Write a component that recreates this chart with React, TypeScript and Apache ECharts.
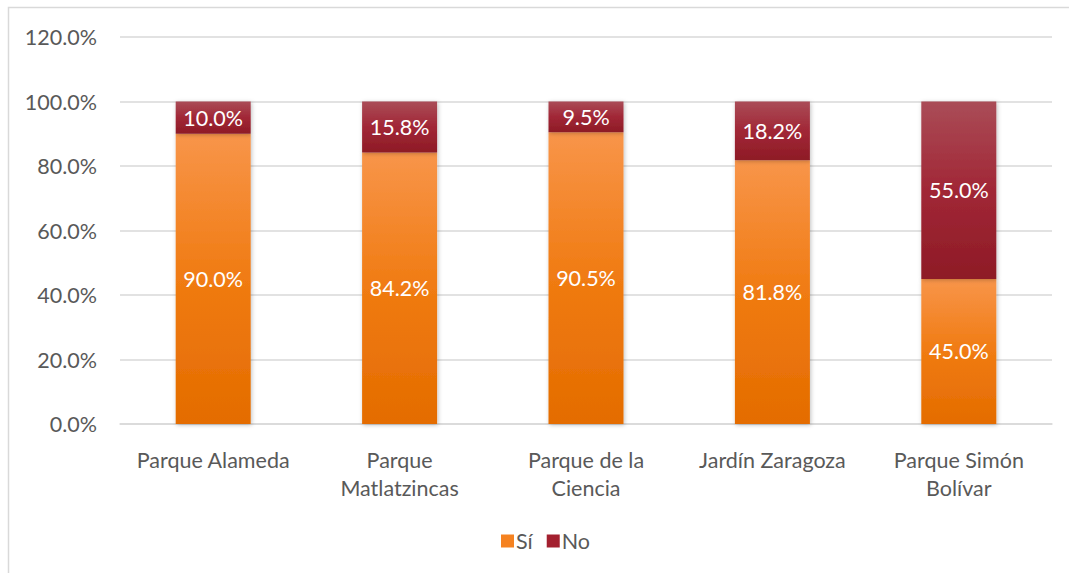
import React, { useEffect, useRef } from "react";
import * as echarts from "echarts";

const categories = [
  "Parque Alameda",
  "Parque Matlatzincas",
  "Parque de la Ciencia",
  "Jardín Zaragoza",
  "Parque Simón Bolívar",
];
const categoryLabels = [
  "Parque Alameda",
  "Parque\nMatlatzincas",
  "Parque de la\nCiencia",
  "Jardín Zaragoza",
  "Parque Simón\nBolívar",
];
const siValues = [90.0, 84.2, 90.5, 81.8, 45.0];
const noValues = [10.0, 15.8, 9.5, 18.2, 55.0];
const yTicks = { min: 0, max: 120, interval: 20 };

const FONT = "Lato, 'Noto Sans', sans-serif";
const FS = 21.5;

export default function App() {
  const ref = useRef<HTMLDivElement>(null);
  useEffect(() => {
    if (!ref.current) return;
    const chart = echarts.init(ref.current, undefined, { renderer: "svg" });
    const orange = new echarts.graphic.LinearGradient(0, 0, 0, 1, [
      { offset: 0, color: "#F8954A" },
      { offset: 0.5, color: "#F07B12" },
      { offset: 1, color: "#E46C00" },
    ]);
    const red = new echarts.graphic.LinearGradient(0, 0, 0, 1, [
      { offset: 0, color: "#AA4C57" },
      { offset: 0.5, color: "#A12736" },
      { offset: 1, color: "#8E1B26" },
    ]);
    const shadow = {
      shadowBlur: 4,
      shadowColor: "rgba(0,0,0,0.25)",
      shadowOffsetX: 1,
      shadowOffsetY: 1,
    };
    const labelStyle = {
      show: true,
      position: "inside" as const,
      color: "#FFFFFF",
      fontSize: FS,
      fontFamily: FONT,
      formatter: (p: any) => Number(p.value).toFixed(1) + "%",
    };
    chart.setOption({
      animation: false,
      backgroundColor: "#FFFFFF",
      textStyle: { fontFamily: FONT },
      graphic: [
        {
          type: "rect",
          shape: { x: 8.5, y: 7.5, width: 1200, height: 700 },
          style: { fill: "none", stroke: "#D9D9D9", lineWidth: 1.5 },
          silent: true,
          z: -10,
        },
      ],
      grid: { left: 120, right: 17, top: 37, bottom: 149 },
      legend: {
        data: [
          { name: "Sí", itemStyle: { color: "#F58220" } },
          { name: "No", itemStyle: { color: "#A3202F" } },
        ],
        bottom: 16,
        left: 496,
        icon: "rect",
        itemWidth: 13,
        itemHeight: 13,
        itemGap: 14,
        textStyle: { color: "#595959", fontSize: FS, fontFamily: FONT, padding: [0, 0, 0, -3] },
      },
      xAxis: {
        type: "category",
        data: categories,
        axisLine: { show: true, lineStyle: { color: "#D9D9D9", width: 1.5 } },
        axisTick: { show: false },
        axisLabel: {
          color: "#595959",
          fontSize: FS,
          fontFamily: FONT,
          margin: 22,
          lineHeight: 28,
          interval: 0,
          formatter: (v: string) => categoryLabels[categories.indexOf(v)] ?? v,
        },
      },
      yAxis: {
        type: "value",
        min: yTicks.min,
        max: yTicks.max,
        interval: yTicks.interval,
        axisLine: { show: false },
        axisTick: { show: false },
        splitLine: { lineStyle: { color: "#D9D9D9", width: 1.5 } },
        axisLabel: {
          color: "#595959",
          fontSize: FS,
          fontFamily: FONT,
          margin: 23,
          formatter: (v: number) => v.toFixed(1) + "%",
        },
      },
      series: [
        {
          name: "Sí",
          type: "bar",
          stack: "total",
          barWidth: 75,
          data: siValues,
          itemStyle: { color: orange, ...shadow },
          label: labelStyle,
        },
        {
          name: "No",
          type: "bar",
          stack: "total",
          barWidth: 75,
          data: noValues,
          itemStyle: { color: red, ...shadow },
          label: labelStyle,
        },
      ],
    });
    return () => chart.dispose();
  }, []);
  return (
    <div
      ref={ref}
      style={{ position: "absolute", left: 0, top: 0, width: 1069, height: 573 }}
    />
  );
}
